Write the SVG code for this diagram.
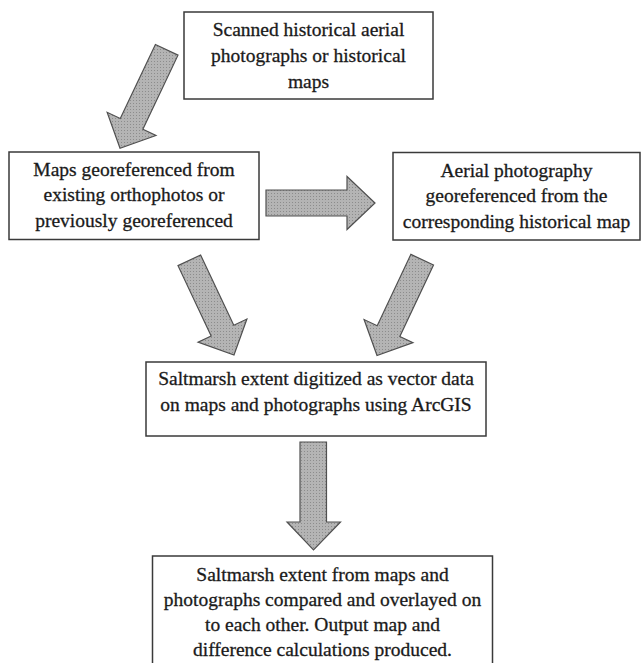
<svg xmlns="http://www.w3.org/2000/svg" width="641" height="663" viewBox="0 0 641 663">
<defs>
<pattern id="dots" width="3" height="3" patternUnits="userSpaceOnUse">
<rect width="3" height="3" fill="#b4b4b4"/>
<rect x="1" y="1" width="1" height="1" fill="#8c8c8c"/>
</pattern>
</defs>
<style>
.box{fill:#ffffff;stroke:#3a3a3a;stroke-width:1.5}
.arr{fill:url(#dots);stroke:#505050;stroke-width:1.2;stroke-linejoin:miter}
text{font-family:"Liberation Serif","Times New Roman",serif;font-size:19.5px;fill:#1a1a1a;stroke:#1a1a1a;stroke-width:0.3;text-anchor:middle}
</style>
<rect width="641" height="663" fill="#ffffff"/>
<g id="connectors">
<polygon class="arr" points="155.4,44.45 178,55.16 142.87,129.26 155.97,135.47 120,148.3 107.17,112.33 120.27,118.54"/>
<polygon class="arr" points="266,190 347,190 347,176.5 375,203 347,229.5 347,216 266,216"/>
<polygon class="arr" points="177.99,265.64 200.61,254.96 233.78,325.24 246.89,319.05 234,355 198.05,342.11 211.16,335.92"/>
<polygon class="arr" points="410.89,254.36 433.51,265.04 399.83,336.42 412.94,342.6 377,355.5 364.1,319.56 377.21,325.74"/>
<polygon class="arr" points="300,442 326.5,442 326.5,522 340.5,522 313.5,550 287,522 300,522"/>
</g>
<g id="n_scanned">
<rect class="box" x="184" y="12" width="249" height="87"/>
<text x="308.5" y="35.5">Scanned historical aerial</text>
<text x="308.5" y="61.5">photographs or historical</text>
<text x="308.5" y="87.5">maps</text>
</g>
<g id="n_maps">
<rect class="box" x="9" y="152" width="250" height="87.5"/>
<text x="134" y="175.5">Maps georeferenced from</text>
<text x="134" y="201">existing orthophotos or</text>
<text x="134" y="226.5">previously georeferenced</text>
</g>
<g id="n_aerial">
<rect class="box" x="393" y="152.5" width="247" height="87.5"/>
<text x="516.5" y="176.5">Aerial photography</text>
<text x="516.5" y="202">georeferenced from the</text>
<text x="516.5" y="227.5">corresponding historical map</text>
</g>
<g id="n_digitized">
<rect class="box" x="146" y="362" width="340" height="74"/>
<text x="316" y="385">Saltmarsh extent digitized as vector data</text>
<text x="316" y="411">on maps and photographs using ArcGIS</text>
</g>
<g id="n_compared">
<rect class="box" x="152.5" y="556" width="340" height="120"/>
<text x="322.5" y="580.7">Saltmarsh extent from maps and</text>
<text x="322.5" y="605.7">photographs compared and overlayed on</text>
<text x="322.5" y="630.7">to each other. Output map and</text>
<text x="322.5" y="656">difference calculations produced.</text>
</g>
</svg>
